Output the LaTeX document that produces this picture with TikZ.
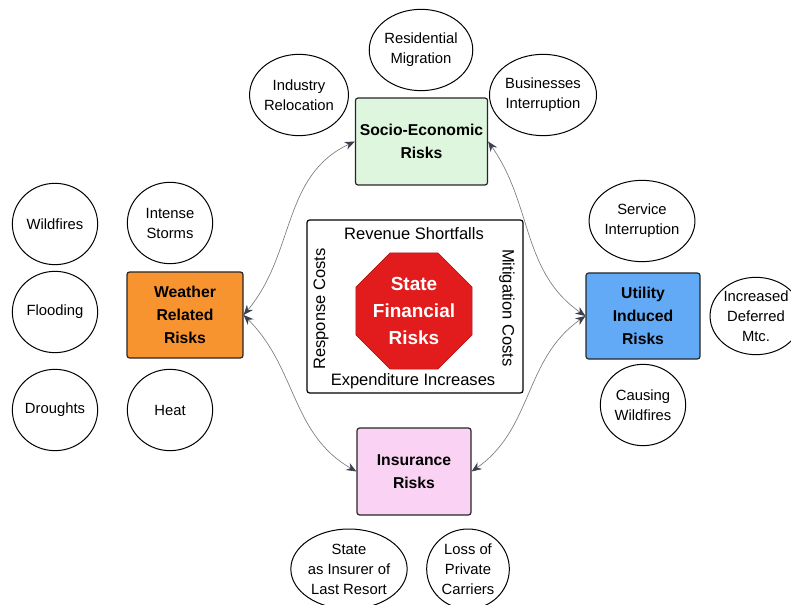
\documentclass[tikz,border=0pt]{standalone}
\usepackage{fontspec}
\setmainfont{Liberation Sans}
\usetikzlibrary{shapes.geometric,arrows.meta}
\definecolor{socgreen}{RGB}{222,246,222}
\definecolor{wxorange}{RGB}{247,148,48}
\definecolor{utilblue}{RGB}{98,170,245}
\definecolor{inspink}{RGB}{250,210,243}
\definecolor{stopred}{RGB}{226,28,28}
\definecolor{linkgray}{RGB}{125,125,125}
\definecolor{tipslate}{RGB}{58,64,78}

\tikzset{
	riskbox/.style={draw=black!85, line width=0.9pt, rounded corners=2pt, align=center,
		font=\bfseries\fontsize{11.8}{17}\selectfont},
	bubble/.style={draw, ellipse, line width=0.75pt, inner sep=0pt, minimum width=64pt,
		minimum height=61pt, align=center, font=\fontsize{11.1}{15}\selectfont},
	costlabel/.style={font=\fontsize{12.4}{13}\selectfont, inner sep=0pt},
	link/.style={linkgray, line width=0.5pt,
		{Stealth[length=7.5pt,width=6pt,color=tipslate]}-{Stealth[length=7.5pt,width=6pt,color=tipslate]}}
}

\begin{document}
\begin{tikzpicture}[x=0.75pt,y=0.75pt,yscale=-1,xscale=1]
	\useasboundingbox (0,0) rectangle (791,605);

	% centre: state risks and its four cost labels
	\node (core) [draw, line width=0.9pt, rounded corners=2pt, minimum width=162pt, minimum height=129.75pt] at (415,306.5) {};
	\node (state) [regular polygon, regular polygon sides=8, minimum size=93pt, inner sep=0pt, fill=stopred,
		draw=stopred!75!black, text=white, align=center, font=\bfseries\fontsize{14.2}{20.5}\selectfont] at (414,311) {State\\Financial\\Risks};
	\node (revenue) [costlabel] at (414,234) {Revenue Shortfalls};
	\node (expend) [costlabel] at (413,381) {Expenditure Increases};
	\node (response) [costlabel, rotate=90] at (321,309) {Response Costs};
	\node (mitig) [costlabel, rotate=-90] at (507,308) {Mitigation Costs};

	% risk groups
	\node (socio) [riskbox, fill=socgreen, minimum width=96.75pt, minimum height=65.25pt] at (421.5,141.5) {Socio-Economic\\Risks};
	\node (weather) [riskbox, fill=wxorange, minimum width=87pt, minimum height=64.5pt] at (185,315) {Weather\\Related\\Risks};
	\node (utility) [riskbox, fill=utilblue, minimum width=85.5pt, minimum height=64.5pt] at (643,316) {Utility\\Induced\\Risks};
	\node (insur) [riskbox, fill=inspink, minimum width=85.5pt, minimum height=65.25pt] at (414,471.5) {Insurance\\Risks};

	% bubbles round each group
	\node (resid) [bubble] at (421,50) {Residential\\Migration};
	\node (industry) [bubble] at (299,95) {Industry\\Relocation};
	\node (business) [bubble] at (543,95) {Businesses\\Interruption};

	\node (wildfire) [bubble] at (55,224) {Wildfires};
	\node (storms) [bubble] at (170,223) {Intense\\Storms};
	\node (flood) [bubble] at (55,312) {Flooding};
	\node (drought) [bubble] at (55,410) {Droughts};
	\node (heat) [bubble] at (170,410) {Heat};

	\node (service) [bubble] at (642,221) {Service\\Interruption};
	\node (deferred) [bubble, minimum width=60pt, minimum height=58pt] at (756,316) {Increased\\Deferred\\Mtc.};
	\node (causing) [bubble] at (643,405) {Causing\\Wildfires};

	\node (insurer) [bubble, minimum width=82pt, minimum height=60pt] at (349,569) {State\\as Insurer of\\Last Resort};
	\node (carriers) [bubble, minimum width=62pt, minimum height=60pt] at (468,569) {Loss of\\Private\\Carriers};

	% links between groups (angles flipped, y runs down)
	\draw [link] (weather.east) to[out=-50,in=155] (socio.west);
	\draw [link] (weather.east) to[out=45,in=210] (insur.west);
	\draw [link] (socio.east) to[out=55,in=215] (utility.west);
	\draw [link] (utility.west) to[out=145,in=-35] (insur.east);
\end{tikzpicture}
\end{document}
